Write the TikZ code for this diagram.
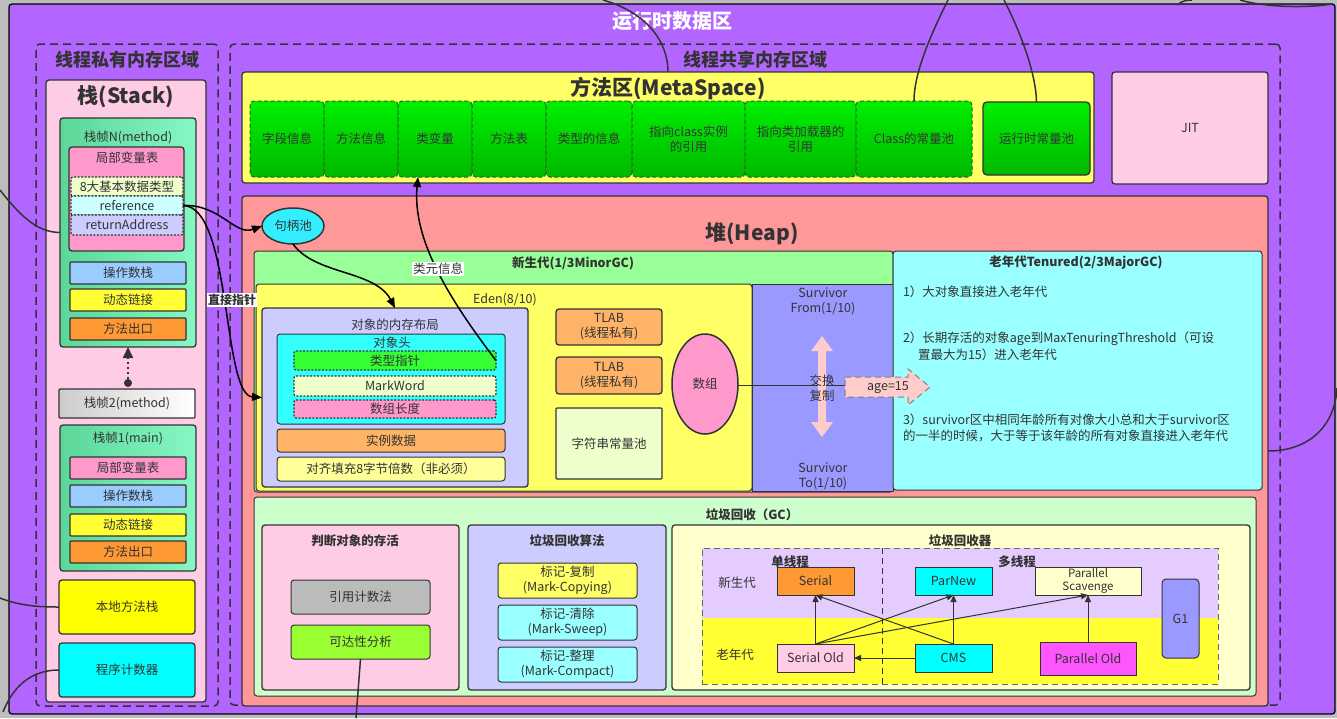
\documentclass[tikz,border=0pt]{standalone}
\usepackage{fontspec}
\setmainfont{Noto Sans CJK SC}
\usetikzlibrary{arrows.meta,shapes.geometric}
\definecolor{bgGrey}{HTML}{BDBDBD}
\definecolor{purp}{HTML}{B266FF}
\definecolor{lineC}{HTML}{333333}
\definecolor{txt}{HTML}{333333}
\definecolor{pinkStack}{HTML}{FFCCE6}
\definecolor{frameL}{HTML}{5CD699}
\definecolor{frameR}{HTML}{85F8C4}
\definecolor{lvPink}{HTML}{FF99CC}
\definecolor{basicC}{HTML}{EEFFCC}
\definecolor{refC}{HTML}{CCFFFF}
\definecolor{retC}{HTML}{CCCCFF}
\definecolor{opBlue}{HTML}{99CCFF}
\definecolor{dynY}{HTML}{FFFF33}
\definecolor{exitO}{HTML}{FF9933}
\definecolor{nativeY}{HTML}{FFFF00}
\definecolor{pcC}{HTML}{00FFFF}
\definecolor{methodY}{HTML}{FFFF66}
\definecolor{gTop}{HTML}{00F000}
\definecolor{gBot}{HTML}{00B800}
\definecolor{heapC}{HTML}{FF9999}
\definecolor{handleC}{HTML}{33EEFF}
\definecolor{youngC}{HTML}{99FF99}
\definecolor{edenC}{HTML}{FFFF66}
\definecolor{survC}{HTML}{9999FF}
\definecolor{oldC}{HTML}{99FFFF}
\definecolor{layoutC}{HTML}{CCCCFF}
\definecolor{headerC}{HTML}{33FFFF}
\definecolor{typeC}{HTML}{33FF33}
\definecolor{instC}{HTML}{FFB366}
\definecolor{alignC}{HTML}{FFFF99}
\definecolor{arrC}{HTML}{FF99CC}
\definecolor{arrowPink}{HTML}{FFCCCC}
\definecolor{gcC}{HTML}{CCFFCC}
\definecolor{refCount}{HTML}{BBBBBB}
\definecolor{reachC}{HTML}{99FF33}
\definecolor{collC}{HTML}{FFFFCC}
\definecolor{yzC}{HTML}{E5CCFF}
\definecolor{ozC}{HTML}{FFFF33}
\definecolor{poldC}{HTML}{FF55FF}
\newcommand{\bx}[7]{\node[#6,minimum width={(#4-#2)*1pt},minimum height={(#5-#3)*1pt}] (#1) at ({(#2+#4)/2},{(#3+#5)/2}) {#7};}
\tikzset{
  x=1pt,y=-1pt,
  every node/.style={text=txt,inner sep=0pt,outer sep=0pt,align=center,font=\fontsize{12.5}{15}\selectfont},
  box/.style={draw=lineC,line width=1.3pt,rounded corners=3pt},
  sq/.style={draw=lineC,line width=1.3pt,rounded corners=1pt},
  dotbox/.style={draw=lineC,line width=1.2pt,dash pattern=on 2pt off 1.5pt,rounded corners=2pt},
  dreg/.style={draw=lineC,line width=1.5pt,dash pattern=on 8pt off 5pt,rounded corners=4pt},
  gbox/.style={draw=lineC!60!gBot,line width=1pt,dash pattern=on 4pt off 2.5pt,rounded corners=4pt,top color=gTop,bottom color=gBot},
  ttl/.style={font=\bfseries\fontsize{18}{20}\selectfont},
  big/.style={font=\bfseries\fontsize{21}{24}\selectfont},
  hd/.style={font=\bfseries\fontsize{12.5}{15}\selectfont},
  sm/.style={font=\fontsize{12.5}{15}\selectfont},
  conn/.style={draw=black,line width=1.5pt,-{Triangle[length=10pt,width=8pt]}},
  outl/.style={draw=lineC,line width=1.5pt},
  gca/.style={draw=lineC,line width=1pt,-{Triangle[length=7pt,width=6pt]}},
  lbl/.style={fill=white,font=\bfseries\fontsize{12}{14}\selectfont,inner sep=1pt},
  lblr/.style={fill=white,font=\fontsize{12.5}{14}\selectfont,inner sep=1pt},
}
\begin{document}
\begin{tikzpicture}
\fill[bgGrey] (0,0) rectangle (1337,718);
\useasboundingbox (0,0) rectangle (1337,718);
% outer
\bx{rt}{9}{4}{1335}{714}{draw=black,line width=1.3pt,fill=purp,rounded corners=3pt}{}
\node[font=\bfseries\fontsize{20}{22}\selectfont,text=white] (rtT) at (672,21) {运行时数据区};
% private
\bx{priv}{36}{44}{218}{706}{dreg}{}
\node[ttl] (privT) at (127,60) {线程私有内存区域};
\bx{stack}{46}{80}{206}{702}{box,fill=pinkStack}{}
\node[big] (stackT) at (126,97) {栈(Stack)};
% frame N
\bx{frameN}{60}{118}{196}{347}{box,left color=frameL,right color=frameR}{}
\node (frameNT) at (128,137) {栈帧N(method)};
\bx{lvN}{69}{147}{184}{251}{box,fill=lvPink}{}
\node (lvNT) at (127,158) {局部变量表};
\bx{basic}{71}{177}{183}{196}{dotbox,fill=basicC}{8大基本数据类型}
\bx{refv}{71}{196}{183}{215}{dotbox,fill=refC}{reference}
\bx{retv}{71}{215}{183}{235}{dotbox,fill=retC}{returnAddress}
\bx{opN}{70}{262}{186}{284}{sq,fill=opBlue}{操作数栈}
\bx{dynN}{70}{289}{186}{311}{sq,fill=dynY}{动态链接}
\bx{exitN}{70}{318}{186}{340}{sq,fill=exitO}{方法出口}
% frame 2
\bx{frame2}{59}{389}{195}{418}{sq,left color=gray!40,right color=white}{栈帧2(method)}
\node[circle,fill=lineC,minimum size=8pt] (dot2) at (128,383) {};
\draw[lineC,line width=2.2pt,dash pattern=on 2pt off 3pt,-{Triangle[length=11pt,width=10pt]}] (dot2) -- (dot2 |- frameN.south);
% frame 1
\bx{frame1}{60}{425}{196}{571}{box,left color=frameL,right color=frameR}{}
\node (frame1T) at (128,438) {栈帧1(main)};
\bx{lv1}{70}{457}{186}{479}{sq,fill=lvPink}{局部变量表}
\bx{op1}{70}{485}{186}{507}{sq,fill=opBlue}{操作数栈}
\bx{dyn1}{70}{514}{186}{536}{sq,fill=dynY}{动态链接}
\bx{exit1}{70}{541}{186}{563}{sq,fill=exitO}{方法出口}
\bx{native}{59}{580}{195}{634}{box,fill=nativeY}{本地方法栈}
\bx{pc}{59}{643}{195}{697}{box,fill=pcC}{程序计数器}
% shared
\bx{shared}{230}{44}{1280}{705}{dreg}{}
\node[ttl] (sharedT) at (755,60) {线程共享内存区域};
% method area
\bx{meta}{242}{72}{1094}{183}{box,fill=methodY}{}
\node[big] (metaT) at (668,89) {方法区(MetaSpace)};
\bx{g1}{250}{101}{324}{177}{gbox}{字段信息}
\bx{g2}{324}{101}{398}{177}{gbox}{方法信息}
\bx{g3}{398}{101}{472}{177}{gbox}{类变量}
\bx{g4}{472}{101}{546}{177}{gbox}{方法表}
\bx{g5}{546}{101}{632}{177}{gbox}{类型的信息}
\bx{g6}{632}{101}{745}{177}{gbox}{指向class实例\\的引用}
\bx{g7}{745}{101}{856}{177}{gbox}{指向类加载器的\\引用}
\bx{g8}{856}{101}{972}{177}{gbox}{Class的常量池}
\bx{rcp}{983}{102}{1090}{175}{box,top color=gTop,bottom color=gBot,rounded corners=4pt}{运行时常量池}
\bx{jit}{1112}{72}{1268}{184}{box,fill=pinkStack}{JIT}
% heap
\bx{heap}{242}{196}{1268}{706}{box,fill=heapC}{}
\node[big] (heapT) at (752,234) {堆(Heap)};
\node[ellipse,draw=lineC,line width=1.5pt,fill=handleC,minimum width=62pt,minimum height=36pt] (handle) at (293,226) {句柄池};
\bx{young}{254}{251}{893}{492}{box,fill=youngC,line width=1pt}{}
\node[hd] (youngT) at (573,263) {新生代(1/3MinorGC)};
\bx{eden}{256}{284}{752}{491}{box,fill=edenC,line width=1pt}{}
\bx{surv}{752}{284}{893}{491}{draw=lineC,line width=1pt,fill=survC}{}
\bx{old}{893}{251}{1262}{490}{box,fill=oldC,line width=1pt}{}
\node (edenT) at (505,300) {Eden(8/10)};
\bx{layout}{262}{308}{528}{487}{box,fill=layoutC}{}
\node (layoutT) at (395,325) {对象的内存布局};
\bx{header}{277}{334}{505}{424}{box,fill=headerC,line width=1pt}{}
\node (headerT) at (392,343) {对象头};
\bx{typeP}{294}{351}{496}{370}{dotbox,fill=typeC}{类型指针}
\bx{mark}{294}{376}{496}{396}{dotbox,fill=basicC}{MarkWord}
\bx{arrlen}{294}{400}{496}{418}{dotbox,fill=arrC}{数组长度}
\bx{inst}{277}{429}{505}{452}{box,fill=instC,line width=1pt}{实例数据}
\bx{alignb}{277}{457}{505}{481}{box,fill=alignC,line width=1pt}{对齐填充8字节倍数（非必须）}
\bx{tlab1}{556}{309}{662}{345}{box,fill=instC}{TLAB\\(线程私有)}
\bx{tlab2}{556}{357}{662}{394}{box,fill=instC}{TLAB\\(线程私有)}
\bx{strpool}{556}{408}{662}{479}{sq,fill=basicC}{字符串常量池}
\node[ellipse,draw=lineC,line width=1.5pt,fill=arrC,minimum width=66pt,minimum height=100pt] (arr) at (705,384) {数组};
\node (survF) at (823,301) {Survivor\\From(1/10)};
\node (survT) at (823,476) {Survivor\\To(1/10)};
\coordinate (ageL) at (845,385);
\draw[lineC,line width=1pt] (arr.east |- ageL) -- (ageL);
\fill[arrowPink] (822,336) -- (833,351) -- (826,351) -- (826,422) -- (833,422) -- (822,437) -- (811,422) -- (818,422) -- (818,351) -- (811,351) -- cycle;
\node (swapT) at (822,388) {交换\\复制};
\filldraw[fill=arrowPink,draw=gray,line width=1pt,dash pattern=on 6pt off 4pt] (845,377) -- (908,377) -- (908,369) -- (930,387) -- (908,405) -- (908,397) -- (845,397) -- cycle;
\node (ageT) at (888,388) {age=15};
\node[hd] (oldT) at (1076,263) {老年代Tenured(2/3MajorGC)};
\node[sm,anchor=west] (o1) at (903,292) {1）大对象直接进入老年代};
\node[sm,anchor=west] (o2a) at (903,339) {2）长期存活的对象age到MaxTenuringThreshold（可设};
\node[sm,anchor=west] (o2b) at (918,355) {置最大为15）进入老年代};
\node[sm,anchor=west] (o3a) at (903,420) {3）survivor区中相同年龄所有对像大小总和大于survivor区};
\node[sm,anchor=west] (o3b) at (903,436) {的一半的时候，大于等于该年龄的所有对象直接进入老年代};
% GC
\bx{gc}{254}{497}{1256}{696}{box,fill=gcC,line width=1pt}{}
\node[hd] (gcT) at (752,515) {垃圾回收（GC）};
\bx{judge}{262}{525}{459}{690}{box,fill=pinkStack}{}
\node[hd] (judgeT) at (355,541) {判断对象的存活};
\bx{refcnt}{291}{580}{430}{614}{box,fill=refCount,line width=1pt}{引用计数法}
\bx{reach}{291}{625}{430}{659}{box,fill=reachC,line width=1pt}{可达性分析}
\bx{algo}{468}{525}{666}{690}{box,fill=layoutC}{}
\node[hd] (algoT) at (567,541) {垃圾回收算法};
\bx{copyb}{498}{563}{637}{598}{box,fill=methodY,line width=1pt}{标记-复制\\(Mark-Copying)}
\bx{sweep}{498}{605}{637}{640}{box,fill=oldC,line width=1pt}{标记-清除\\(Mark-Sweep)}
\bx{compact}{498}{647}{637}{682}{box,fill=oldC,line width=1pt}{标记-整理\\(Mark-Compact)}
\bx{coll}{672}{525}{1250}{690}{box,fill=collC}{}
\node[hd] (collT) at (960,541) {垃圾回收器};
\bx{yz}{702}{548}{1218}{618}{fill=yzC}{}
\bx{oz}{702}{618}{1218}{684}{fill=ozC}{}
\bx{zones}{702}{548}{1218}{684}{draw=gray!80!black,line width=1pt,dash pattern=on 6pt off 4pt}{}
\coordinate (vd1) at (882,548);
\coordinate (vd2) at (882,684);
\draw[lineC,line width=1pt,dash pattern=on 6pt off 4pt] (vd1) -- (vd2);
\node[hd] (singleT) at (790,562) {单线程};
\node[hd] (multiT) at (1017,562) {多线程};
\node (yzT) at (737,583) {新生代};
\node (ozT) at (735,655) {老年代};
\bx{serial}{777}{567}{854}{595}{draw=lineC,line width=1pt,fill=exitO}{Serial}
\bx{parnew}{915}{567}{992}{595}{draw=lineC,line width=1pt,fill=pcC}{ParNew}
\bx{pscav}{1035}{567}{1141}{595}{draw=lineC,line width=1pt,fill=collC,font=\fontsize{11.5}{13}\selectfont}{Parallel\\Scavenge}
\bx{serold}{777}{644}{854}{672}{draw=lineC,line width=1pt,fill=pinkStack}{Serial Old}
\bx{cms}{915}{644}{992}{672}{draw=lineC,line width=1pt,fill=pcC}{CMS}
\bx{pold}{1040}{642}{1136}{675}{draw=lineC,line width=1pt,fill=poldC}{Parallel Old}
\bx{gone}{1162}{579}{1199}{658}{box,fill=survC,line width=1pt,rounded corners=4pt}{G1}
\draw[gca] (serold.north) -- (serial.south);
\draw[gca] (serold.north) -- (parnew.south);
\draw[gca] (serold.north) -- (pscav.south);
\draw[gca] (cms.north) -- (serial.south);
\draw[gca] (cms.north) -- (parnew.south);
\draw[gca] (cms.west) -- (serold.east);
\draw[gca] (pold.north) -- (pscav.south);
% main connectors
\draw[conn] (refv.east) .. controls (220,204) and (235,236) .. (handle.west);
\draw[conn] (refv.east) .. controls (232,206) and (222,395) .. (layout.west);
\node[lbl] (directL) at (232,300) {直接指针};
\draw[conn] (handle.south) .. controls (315,275) and (375,270) .. (layout.north);
\draw[conn] (typeP.east) .. controls (450,300) and (412,240) .. ([xshift=-17pt]g3.south);
\node[lblr] (metaL) at (438,269) {类元信息};
% outside curves
\coordinate (e1) at (0,190);
\coordinate (e2) at (0,598);
\coordinate (e3) at (3,712);
\coordinate (e4) at (603,0);
\coordinate (e5) at (948,0);
\coordinate (e6) at (1004,0);
\coordinate (e7) at (1337,388);
\coordinate (e8) at (356,718);
\draw[outl] (e1) .. controls (25,222) and (40,232) .. (frameN.west);
\draw[outl] (e2) .. controls (20,606) and (40,607) .. (native.west);
\draw[outl] (e3) .. controls (15,682) and (35,670) .. (pc.west);
\draw[outl] (e4) .. controls (645,12) and (668,40) .. (meta.north);
\draw[outl] (e5) .. controls (928,40) and (914,75) .. (g8.north);
\draw[outl] (e6) .. controls (1022,35) and (1036,75) .. (rcp.north);
\draw[outl] (heap.east) .. controls (1310,451) and (1335,425) .. (e7);
\draw[outl] (reach.south) -- (e8);
\draw[outl] (1177,5) .. controls (1182,1) and (1186,0) .. (1192,0);
\draw[outl] (1240,0) .. controls (1260,6) and (1300,9) .. (1332,4);
\end{tikzpicture}
\end{document}
